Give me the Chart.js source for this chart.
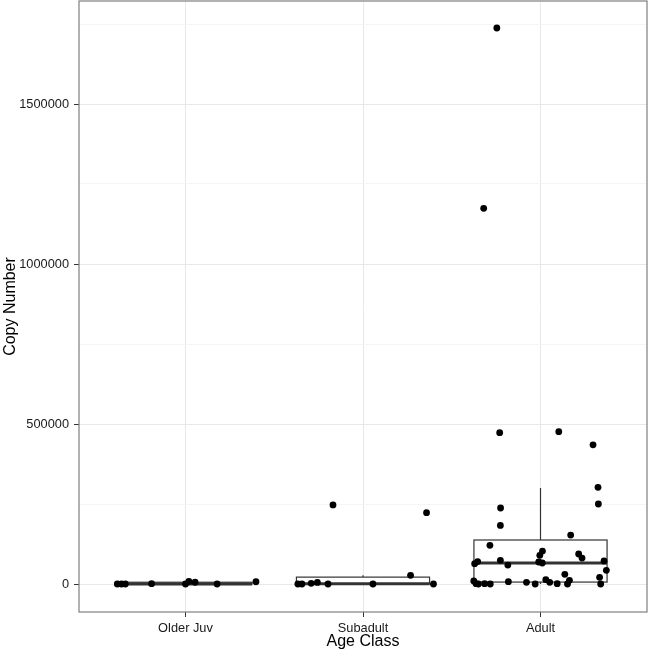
<!DOCTYPE html>
<html>
<head>
<meta charset="utf-8">
<script src="https://cdn.jsdelivr.net/npm/chart.js@4.4.1/dist/chart.umd.min.js"></script>
<style>
  html, body { margin: 0; padding: 0; background: #fff; }
  canvas { display: block; }
</style>
</head>
<body>
<canvas id="boxChart" width="650" height="652"></canvas>
<script>
// categories and axis ticks
const categories = ['Older Juv', 'Subadult', 'Adult'];
const yMajorTicks = [0, 500000, 1000000, 1500000];
const yMinorTicks = [250000, 750000, 1250000, 1750000];
const yMin = -87500;
const yMax = 1821875;

// box statistics per class
const boxQ1 = [0, 0, 6000];
const boxMedian = [0, 1000, 65600];
const boxQ3 = [5500, 21500, 137500];
const whiskerLow = [0, 0, 0];
const whiskerHigh = [8000, 27000, 300000];

// jittered points (x in class units, y = copy number)
const olderJuvX = [0.616, 0.639, 0.661, 0.809, 1.0, 1.019, 1.054, 1.178, 1.397];
const olderJuvY = [0, 0, 0, 1000, 0, 8000, 5500, 0, 7000];

const subadultX = [1.633, 1.656, 1.708, 1.743, 1.803, 1.831, 2.056, 2.268, 2.358, 2.397];
const subadultY = [0, 0, 2000, 5000, 0, 247000, 0, 27000, 223000, 0];

const adultX = [2.770, 3.103, 3.296, 3.324, 3.326, 2.775, 2.774, 3.170, 2.715, 3.011,
                2.996, 3.215, 3.234, 2.646, 2.629, 2.774, 2.816, 2.990, 3.010, 3.358,
                3.371, 3.137, 3.333, 2.624, 2.637, 2.650, 2.685, 2.717, 2.819, 2.921,
                2.970, 3.030, 3.052, 3.094, 3.152, 3.163, 3.339, 2.754, 2.680];
const adultY = [472800, 476000, 435000, 302000, 250000, 237500, 183000, 153000, 121000, 103000,
                89600, 93750, 81000, 70000, 63500, 74000, 59000, 68750, 65600, 71900,
                42700, 30200, 21000, 9400, 1000, 0, 1000, 0, 7300, 5200,
                0, 13500, 5200, 1000, 0, 11500, 0, 1737500, 1174000];

const fontFamily = "'Liberation Sans', Arial, Helvetica, sans-serif";

function toPoints(xs, ys) {
    return xs.map((x, i) => ({ x: x, y: ys[i] }));
}

// Boxes and whiskers, drawn under the points
const boxPlugin = {
    id: 'boxPlugin',
    beforeDatasetsDraw(chart) {
        const ctx = chart.ctx;
        const xs = chart.scales.x;
        const ys = chart.scales.y;
        ctx.save();
        categories.forEach((c, i) => {
            const cx = xs.getPixelForValue(i + 1);
            const left = xs.getPixelForValue(i + 1 - 0.375);
            const right = xs.getPixelForValue(i + 1 + 0.375);
            const q1 = ys.getPixelForValue(boxQ1[i]);
            const q3 = ys.getPixelForValue(boxQ3[i]);
            const med = ys.getPixelForValue(boxMedian[i]);
            const wLo = ys.getPixelForValue(whiskerLow[i]);
            const wHi = ys.getPixelForValue(whiskerHigh[i]);

            // whiskers
            ctx.strokeStyle = '#333333';
            ctx.lineWidth = 1.2;
            ctx.beginPath();
            ctx.moveTo(cx, q3);
            ctx.lineTo(cx, wHi);
            ctx.moveTo(cx, q1);
            ctx.lineTo(cx, wLo);
            ctx.stroke();

            // box
            ctx.fillStyle = '#ffffff';
            ctx.fillRect(left, q3, right - left, q1 - q3);
            ctx.lineWidth = 1.2;
            ctx.strokeRect(left, q3, right - left, q1 - q3);

            // median
            ctx.lineWidth = 3;
            ctx.beginPath();
            ctx.moveTo(left, med);
            ctx.lineTo(right, med);
            ctx.stroke();
        });
        ctx.restore();
    }
};

// Panel border
const borderPlugin = {
    id: 'borderPlugin',
    afterDatasetsDraw(chart) {
        const a = chart.chartArea;
        const ctx = chart.ctx;
        ctx.save();
        ctx.strokeStyle = '#7f7f7f';
        ctx.lineWidth = 1.2;
        ctx.strokeRect(a.left, a.top, a.right - a.left, a.bottom - a.top);
        ctx.restore();
    }
};

const pointStyle = {
    backgroundColor: '#000000',
    borderColor: '#000000',
    borderWidth: 0,
    pointRadius: 3.4
};

new Chart(document.getElementById('boxChart').getContext('2d'), {
    type: 'scatter',
    data: {
        datasets: [
            Object.assign({ label: categories[0], data: toPoints(olderJuvX, olderJuvY) }, pointStyle),
            Object.assign({ label: categories[1], data: toPoints(subadultX, subadultY) }, pointStyle),
            Object.assign({ label: categories[2], data: toPoints(adultX, adultY) }, pointStyle)
        ]
    },
    options: {
        responsive: false,
        devicePixelRatio: 1,
        animation: false,
        clip: false,
        layout: { autoPadding: false, padding: { top: 1, right: 3, left: 0, bottom: 0 } },
        plugins: {
            legend: { display: false },
            tooltip: { enabled: false }
        },
        scales: {
            x: {
                type: 'linear',
                min: 0.4,
                max: 3.6,
                afterBuildTicks: scale => {
                    scale.ticks = categories.map((c, i) => ({ value: i + 1 }));
                },
                afterFit: scale => {
                    scale.height = 40;
                    scale.paddingLeft = 0;
                    scale.paddingRight = 0;
                },
                border: { display: false },
                grid: {
                    color: '#e8e8e8',
                    lineWidth: 1,
                    tickColor: '#333333',
                    tickLength: 5
                },
                ticks: {
                    autoSkip: false,
                    maxRotation: 0,
                    padding: 4,
                    color: '#1a1a1a',
                    font: { family: fontFamily, size: 12.8 },
                    callback: (v, i) => categories[i]
                },
                title: {
                    display: true,
                    text: 'Age Class',
                    color: '#000000',
                    font: { family: fontFamily, size: 16 },
                    padding: { top: 0, bottom: 1 }
                }
            },
            y: {
                type: 'linear',
                min: yMin,
                max: yMax,
                afterBuildTicks: scale => {
                    scale.ticks = yMajorTicks.concat(yMinorTicks)
                        .sort((a, b) => a - b)
                        .map(v => ({ value: v }));
                },
                afterFit: scale => {
                    scale.width = 79;
                    scale.paddingTop = 0;
                    scale.paddingBottom = 0;
                },
                border: { display: false },
                grid: {
                    color: c => yMajorTicks.includes(c.tick && c.tick.value) ? '#e8e8e8' : '#f5f5f5',
                    lineWidth: 1,
                    tickColor: c => yMajorTicks.includes(c.tick && c.tick.value) ? '#333333' : 'rgba(0,0,0,0)',
                    tickLength: 5
                },
                ticks: {
                    autoSkip: false,
                    padding: 5,
                    color: '#1a1a1a',
                    font: { family: fontFamily, size: 12.8 },
                    callback: v => yMajorTicks.includes(v) ? String(v) : ''
                },
                title: {
                    display: true,
                    text: 'Copy Number',
                    color: '#000000',
                    font: { family: fontFamily, size: 16 },
                    padding: { top: 1, bottom: 0 }
                }
            }
        }
    },
    plugins: [boxPlugin, borderPlugin]
});
</script>
</body>
</html>
